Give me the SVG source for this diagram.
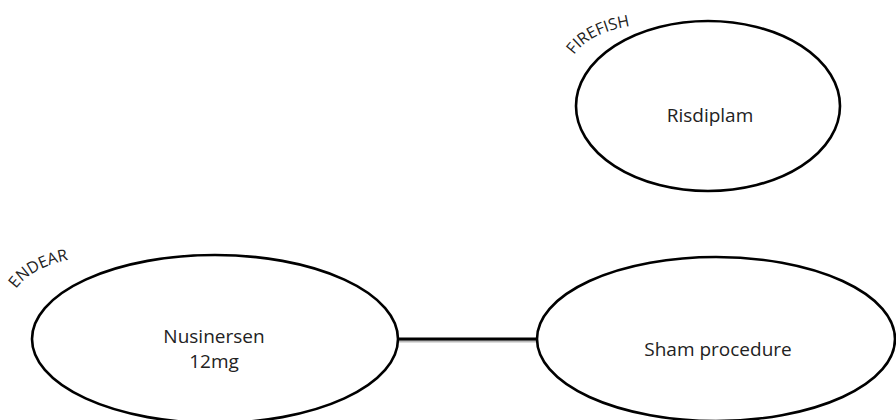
<svg xmlns="http://www.w3.org/2000/svg" width="896" height="420" viewBox="0 0 896 420">
<defs>
<style>
.node ellipse{fill:#fff;stroke:#000;stroke-width:2.6}
.lbl{font-family:"Open Sans","Liberation Sans",sans-serif;font-size:19px;fill:#222;text-anchor:middle}
.trial{font-family:"Open Sans","Liberation Sans",sans-serif;font-size:16px;fill:#222}
</style>
<path id="arcFire" d="M 574 55 Q 592 29 645 24"/>
<path id="arcEnd" d="M 16 289 Q 35 263 82 258"/>
</defs>
<rect width="896" height="420" fill="#fff"/>
<g id="connectors">
<line x1="398" y1="341" x2="537" y2="341" stroke="#bbb" stroke-width="3"/>
<line x1="398" y1="339" x2="537" y2="339" stroke="#000" stroke-width="3"/>
</g>
<g id="risdiplam" class="node">
<ellipse cx="708" cy="106" rx="132" ry="85"/>
<text class="lbl" x="710" y="122">Risdiplam</text>
<text class="trial"><textPath href="#arcFire">FIREFISH</textPath></text>
</g>
<g id="nusinersen" class="node">
<ellipse cx="215" cy="339" rx="183" ry="84"/>
<text class="lbl" x="214" y="343">Nusinersen</text>
<text class="lbl" x="214" y="368">12mg</text>
<text class="trial"><textPath href="#arcEnd">ENDEAR</textPath></text>
</g>
<g id="sham" class="node">
<ellipse cx="716" cy="339" rx="179" ry="82"/>
<text class="lbl" x="718" y="356">Sham procedure</text>
</g>
</svg>
